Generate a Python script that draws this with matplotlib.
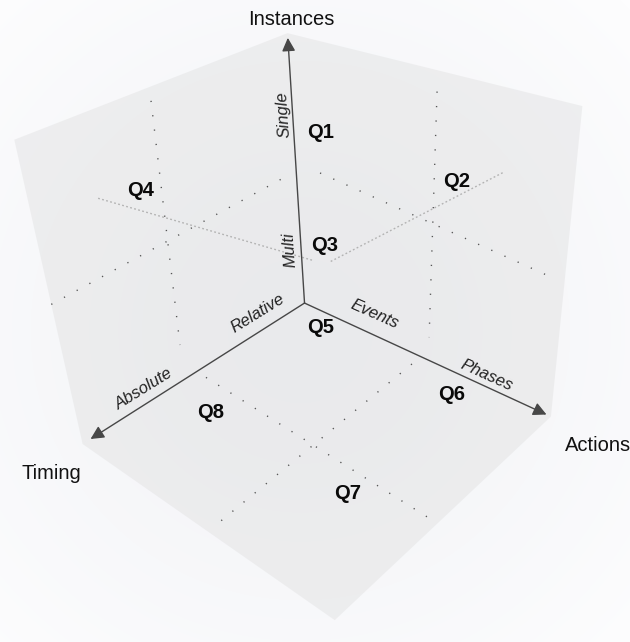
import numpy as np
import matplotlib
matplotlib.use('Agg')
import matplotlib.pyplot as plt
from matplotlib.patches import FancyArrowPatch
from mpl_toolkits.mplot3d.art3d import Poly3DCollection

# cube coordinates: x = Timing, y = Actions, z = Instances (origin in the back corner)
q_labels = ['Q1', 'Q2', 'Q3', 'Q4', 'Q5', 'Q6', 'Q7', 'Q8']
q_x = [0.0, 0.0, 0.0, 0.644, 0.082, 0.10, 0.646, 0.648]
q_y = [0.117, 0.635, 0.11, 0.0, 0.148, 0.708, 0.745, 0.19]
q_z = [0.70, 0.68, 0.28, 0.715, 0.0, 0.0, 0.0, 0.0]

axis_names = ['Timing', 'Actions', 'Instances']
axis_name_pos = [(1.14, 0.033, 0.0), (0.029, 1.17, 0.0), (0.0, 0.02, 1.045)]
axis_ends = [(0.97, 0, 0), (0, 0.985, 0), (0, 0, 0.985)]

level_labels = ['Relative', 'Absolute', 'Events', 'Phases', 'Multi', 'Single']
level_pos = [(0.235, 0.0, 0.077), (0.747, 0.0, 0.058), (0.0, 0.325, 0.09),
             (0.0, 0.77, 0.045), (0.055, 0.0, 0.25), (0.04, 0.0, 0.745)]
level_dir = [(-1, 0, 0), (-1, 0, 0), (0, 1, 0), (0, 1, 0), (0, 0, 1), (0, 0, 1)]

# dotted split lines on the three panes (start, end)
split_lines = [((0.56, 0.0, 0.96), (0.583, 0.0, 0.137)),
               ((1.0, 0.0, 0.507), (0.041, 0.0, 0.528)),
               ((0.0, 0.562, 0.938), (0.0, 0.549, 0.093)),
               ((0.0, 0.107, 0.553), (0.0, 0.951, 0.482)),
               ((0.533, 0.047, 0.0), (0.578, 0.978, 0.0)),
               ((0.051, 0.519, 0.0), (0.973, 0.551, 0.0))]
# light diagonals toward Q4 and Q2
diag_lines = [((0.788, 0.0, 0.749), (0.0, 0.053, 0.2)),
              ((0.0, 0.785, 0.753), (0.0, 0.128, 0.22))]

panes = [[(0, 0, 0), (1, 0, 0), (1, 0, 1), (0, 0, 1)],
         [(0, 0, 0), (0, 1, 0), (0, 1, 1), (0, 0, 1)],
         [(0, 0, 0), (1, 0, 0), (1, 1, 0), (0, 1, 0)]]

# camera
ELEV, AZIM, ROLL, FOCAL = 32.36, 44.41, 3.44, 0.3043
BOX = (1, 1.0255, 1.006)
RECT = [-0.0079, 0.0581, 0.9684, 0.9503]


class Arrow3D(FancyArrowPatch):
    def __init__(self, start, end, **kw):
        super().__init__((0, 0), (0, 0), **kw)
        self._pts = np.array([start, end], float)

    def do_3d_projection(self, renderer=None):
        v = self.axes.M @ np.c_[self._pts, np.ones(2)].T
        xs, ys = v[0] / v[3], v[1] / v[3]
        self.set_positions((xs[0], ys[0]), (xs[1], ys[1]))
        return np.min(v[2] / v[3])


plt.rcParams['font.family'] = ['Liberation Sans', 'DejaVu Sans']
W, H = 630, 642
fig = plt.figure(figsize=(W / 100, H / 100), dpi=100)

# soft radial background
bg = fig.add_axes([0, 0, 1, 1])
yy, xx = np.mgrid[0:H, 0:W]
r = np.clip(np.hypot(xx - 300, yy - 330) / 460, 0, 1)
inner = np.array([242, 243, 246]) / 255
outer = np.array([253, 253, 254]) / 255
bg.imshow(inner + (outer - inner) * r[..., None] ** 1.3, extent=[0, 1, 0, 1], aspect='auto')
bg.set_axis_off()

ax = fig.add_axes(RECT, projection='3d', computed_zorder=False)
ax.set_xlim(0, 1); ax.set_ylim(0, 1); ax.set_zlim(0, 1)
ax.set_box_aspect(BOX)
ax.view_init(elev=ELEV, azim=AZIM, roll=ROLL)
ax.set_proj_type('persp', focal_length=FOCAL)
ax.set_axis_off()
ax.patch.set_visible(False)

pc = Poly3DCollection(panes, facecolor='#dcdcdc', alpha=0.38, edgecolor='none', zorder=1)
pc.set_clip_on(False)
ax.add_collection3d(pc)

for a, b in split_lines:
    ax.plot(*zip(a, b), color='#555555', lw=1.0, ls=(0, (0.9, 9.5)), zorder=2, clip_on=False)
for a, b in diag_lines:
    ax.plot(*zip(a, b), color='#b3b3b3', lw=1.0, ls=(0, (1.3, 1.7)), zorder=2, clip_on=False)

for end in axis_ends:
    arr = Arrow3D((0, 0, 0), end, arrowstyle='-|>', mutation_scale=20, color='#474747',
                  lw=1.0, shrinkA=0, shrinkB=0, zorder=3)
    arr.set_clip_on(False)
    ax.add_artist(arr)

# texts: project the cube points with the axes' own matrix, then place as 2D text
fig.canvas.draw()
M = ax.get_proj()


def to2d(pt):
    v = M @ np.append(np.asarray(pt, float), 1.0)
    return v[0] / v[3], v[1] / v[3]


for lab, x, y, z in zip(q_labels, q_x, q_y, q_z):
    ax.text2D(*to2d((x, y, z)), lab, transform=ax.transData, fontsize=14.5, fontweight='bold',
              ha='center', va='center', color='#0a0a0a')
for lab, pos in zip(axis_names, axis_name_pos):
    ax.text2D(*to2d(pos), lab, transform=ax.transData, fontsize=14.5,
              ha='center', va='center', color='#111111')
for lab, pos, d in zip(level_labels, level_pos, level_dir):
    p0 = ax.transData.transform(to2d(pos))
    p1 = ax.transData.transform(to2d(np.add(pos, np.multiply(d, 0.05))))
    ang = np.degrees(np.arctan2(p1[1] - p0[1], p1[0] - p0[0]))
    ax.text2D(*to2d(pos), lab, transform=ax.transData, fontsize=12, fontstyle='italic',
              rotation=ang, rotation_mode='anchor', ha='center', va='center', color='#222222')

fig.savefig('out.png', dpi=100)
